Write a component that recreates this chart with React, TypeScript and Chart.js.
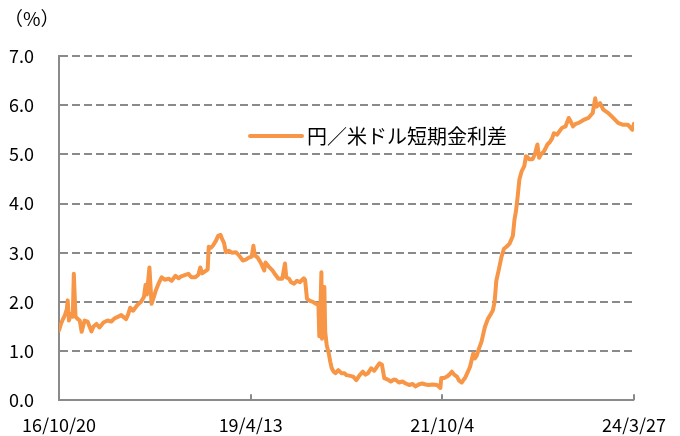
import React, { useEffect, useRef } from "react";
import { Chart, registerables } from "chart.js";

Chart.register(...registerables);

// days elapsed since 2016/10/20
const dayOffsets = [
  0, 9, 19, 28, 37, 41, 47, 56, 65, 70, 78, 89, 98, 107, 121, 135, 153, 163, 177, 191,
  210, 229, 247, 261, 280, 294, 308, 317, 327, 336, 350, 369, 387, 401, 409, 415, 427, 437, 448, 457,
  471, 485, 499, 518, 532, 550, 564, 578, 597, 611, 625, 644, 658, 667, 676, 690, 702, 707, 718, 728,
  742, 751, 763, 770, 779, 788, 802, 816, 835, 849, 868, 882, 896, 910, 918, 924, 938, 952, 969, 975,
  994, 1008, 1022, 1036, 1054, 1067, 1073, 1086, 1096, 1110, 1124, 1138, 1156, 1162, 1171, 1185, 1199, 1213, 1225, 1229,
  1236, 1239, 1242, 1248, 1253, 1257, 1264, 1274, 1281, 1288, 1297, 1306, 1319, 1334, 1348, 1357, 1371, 1389, 1404, 1418,
  1435, 1446, 1459, 1474, 1488, 1497, 1513, 1525, 1536, 1553, 1567, 1581, 1591, 1605, 1622, 1637, 1653, 1670, 1684, 1698,
  1715, 1731, 1746, 1763, 1785, 1801, 1805, 1819, 1832, 1843, 1855, 1866, 1879, 1889, 1902, 1908, 1917, 1931, 1941, 1956,
  1964, 1972, 1983, 1995, 2011, 2026, 2039, 2049, 2057, 2065, 2076, 2089, 2101, 2113, 2127, 2143, 2151, 2158, 2166, 2174,
  2185, 2197, 2205, 2211, 2220, 2236, 2247, 2259, 2267, 2276, 2290, 2306, 2318, 2329, 2337, 2352, 2365, 2376, 2392, 2407,
  2415, 2427, 2440, 2454, 2477, 2500, 2520, 2532, 2539, 2555, 2570, 2594, 2617, 2640, 2664, 2687, 2707, 2715,
];

const spreadValues = [
  1.42, 1.55, 1.65, 1.73, 1.85, 2.03, 1.62, 1.75, 1.7, 2.57, 1.7, 1.65, 1.62, 1.39, 1.62, 1.6, 1.4, 1.5, 1.55, 1.48,
  1.58, 1.62, 1.6, 1.66, 1.7, 1.73, 1.68, 1.65, 1.75, 1.88, 1.82, 1.93, 2.0, 2.1, 2.35, 2.15, 2.7, 1.96, 2.1, 2.23,
  2.38, 2.5, 2.45, 2.47, 2.43, 2.53, 2.48, 2.52, 2.55, 2.57, 2.5, 2.5, 2.55, 2.7, 2.58, 2.62, 2.66, 3.12, 3.1, 3.15,
  3.25, 3.34, 3.36, 3.28, 3.2, 3.01, 3.04, 3.0, 3.01, 2.95, 2.84, 2.86, 2.9, 2.92, 3.14, 2.95, 2.9, 2.8, 2.64, 2.8,
  2.7, 2.64, 2.55, 2.47, 2.47, 2.78, 2.5, 2.47, 2.4, 2.37, 2.43, 2.4, 2.48, 2.45, 2.06, 2.02, 2.0, 1.96, 1.95, 1.3,
  2.1, 2.6, 1.25, 1.5, 2.3, 1.4, 1.12, 0.95, 0.78, 0.65, 0.58, 0.55, 0.61, 0.55, 0.55, 0.51, 0.5, 0.48, 0.41, 0.5,
  0.58, 0.52, 0.55, 0.65, 0.6, 0.65, 0.75, 0.72, 0.45, 0.42, 0.38, 0.42, 0.41, 0.36, 0.38, 0.34, 0.31, 0.33, 0.28, 0.32,
  0.34, 0.32, 0.31, 0.32, 0.31, 0.25, 0.45, 0.45, 0.48, 0.52, 0.58, 0.52, 0.48, 0.4, 0.36, 0.4, 0.45, 0.58, 0.68, 0.95,
  0.85, 0.9, 1.05, 1.19, 1.49, 1.66, 1.75, 1.83, 2.0, 2.43, 2.64, 2.91, 3.08, 3.12, 3.18, 3.34, 3.68, 3.85, 4.15, 4.49,
  4.66, 4.76, 4.96, 4.95, 4.9, 4.9, 5.0, 5.2, 4.93, 5.0, 5.06, 5.2, 5.25, 5.33, 5.43, 5.4, 5.48, 5.54, 5.57, 5.74,
  5.68, 5.57, 5.62, 5.64, 5.7, 5.74, 5.84, 6.14, 5.97, 6.04, 5.91, 5.84, 5.74, 5.64, 5.6, 5.6, 5.5, 5.62,
];

const xTickDays = [0, 905, 1810, 2715];
const xTickLabels = ["16/10/20", "19/4/13", "21/10/4", "24/3/27"];
const seriesName = "円／米ドル短期金利差";
const unitLabel = "（%）";

const FONT = "'Noto Sans CJK JP', 'Noto Sans', sans-serif";
const ORANGE = "#F79646";
const GRID = "#8a8a8a";

export default function App() {
  const ref = useRef<HTMLCanvasElement | null>(null);

  useEffect(() => {
    document.body.style.margin = "0";
    const canvas = ref.current;
    if (!canvas) return;

    const points = dayOffsets.map((d, i) => ({ x: d, y: spreadValues[i] }));

    const overlay = {
      id: "overlay",
      afterDraw(chart: any) {
        const { ctx, chartArea, scales } = chart;
        ctx.save();
        // x-axis inward tick marks
        ctx.strokeStyle = GRID;
        ctx.lineWidth = 2;
        xTickDays.forEach((d) => {
          const px = Math.round(scales.x.getPixelForValue(d));
          ctx.beginPath();
          ctx.moveTo(px, chartArea.bottom);
          ctx.lineTo(px, chartArea.bottom - 6);
          ctx.stroke();
        });
        // unit label
        ctx.fillStyle = "#000";
        ctx.font = `19px ${FONT}`;
        ctx.textBaseline = "middle";
        ctx.textAlign = "left";
        ctx.fillText(unitLabel, 4, 19);
        // legend
        const ly = chartArea.top + 80;
        const lx = chartArea.left + 191;
        ctx.strokeStyle = ORANGE;
        ctx.lineWidth = 4;
        ctx.lineCap = "round";
        ctx.beginPath();
        ctx.moveTo(lx, ly);
        ctx.lineTo(lx + 52, ly);
        ctx.stroke();
        ctx.font = `20px ${FONT}`;
        ctx.fillStyle = "#000";
        ctx.fillText(seriesName, lx + 57, ly);
        ctx.restore();
      },
    };

    const chart = new Chart(canvas, {
      type: "line",
      data: {
        datasets: [
          {
            label: seriesName,
            data: points,
            borderColor: ORANGE,
            backgroundColor: ORANGE,
            borderWidth: 4,
            pointRadius: 0,
            tension: 0,
            borderJoinStyle: "round",
            borderCapStyle: "round",
          },
        ],
      },
      options: {
        animation: false,
        responsive: false,
        maintainAspectRatio: false,
        layout: { padding: { top: 56, right: 39, left: 0, bottom: 0 } },
        plugins: {
          legend: { display: false },
          tooltip: { enabled: false },
          title: { display: false },
        },
        scales: {
          x: {
            type: "linear",
            min: 0,
            max: 2715,
            afterFit(scale: any) {
              scale.height = 34;
            },
            afterBuildTicks(scale: any) {
              scale.ticks = xTickDays.map((v) => ({ value: v }));
            },
            grid: { display: false, drawTicks: false },
            border: { display: true, color: GRID, width: 2 },
            ticks: {
              autoSkip: false,
              maxRotation: 0,
              padding: 14,
              color: "#000",
              font: { family: FONT, size: 18 },
              callback: (v: any) => {
                const i = xTickDays.indexOf(Number(v));
                return i >= 0 ? xTickLabels[i] : "";
              },
            },
          },
          y: {
            min: 0,
            max: 7,
            afterFit(scale: any) {
              scale.width = 59;
            },
            grid: {
              color: GRID,
              lineWidth: 2,
              drawTicks: false,
            },
            border: { display: true, color: GRID, width: 2, dash: [8, 4] },
            ticks: {
              stepSize: 1,
              padding: 25,
              color: "#000",
              font: { family: FONT, size: 18 },
              callback: (v: any) => Number(v).toFixed(1),
            },
          },
        },
      },
      plugins: [overlay],
    });

    return () => chart.destroy();
  }, []);

  return (
    <div style={{ width: 680, height: 436 }}>
      <canvas ref={ref} width={680} height={436} style={{ display: "block" }} />
    </div>
  );
}
